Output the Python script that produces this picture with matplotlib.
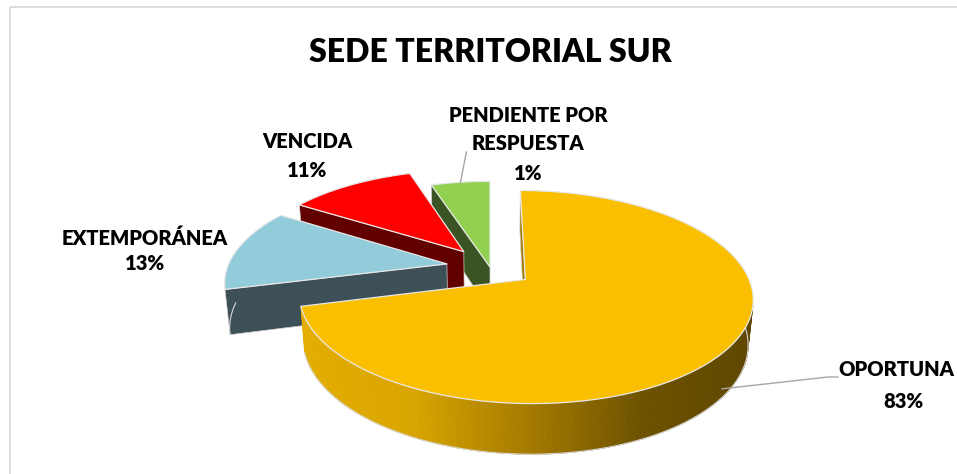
import numpy as np
import matplotlib
matplotlib.use("Agg")
import matplotlib.pyplot as plt
from matplotlib.patches import Polygon, Rectangle
from matplotlib.colors import LinearSegmentedColormap

# ---------------- data ----------------
title = "SEDE TERRITORIAL SUR"
categories = ["OPORTUNA", "EXTEMPORÁNEA", "VENCIDA", "PENDIENTE POR\nRESPUESTA"]
shares = [71, 13, 11, 5]                  # slice sizes as drawn in the picture
pct_labels = ["83%", "13%", "11%", "1%"]  # percentages printed on the chart

# ---------------- style ----------------
top_colors = ["#FABF00", "#92CBD9", "#FF0000", "#92D050"]
side_colors = [None, "#3D4F57", "#620000", "#3B5424"]
explode = [0.2, 0.2, 0.2, 0.0]
orange_side = LinearSegmentedColormap.from_list(
    "side", ["#E4AE00", "#D9A500", "#A57B00", "#6E5200", "#5E4600"])

W, H = 957, 474
fig = plt.figure(figsize=(W / 100, H / 100), dpi=100)
ax = fig.add_axes([0, 0, 1, 1])
ax.set_xlim(0, W)
ax.set_ylim(H, 0)
ax.axis("off")

plt.rcParams["font.family"] = ["Lato", "DejaVu Sans"]

# frame
ax.add_patch(Rectangle((10, 7), W + 20, H + 20, fill=False,
                       edgecolor="#D9D9D9", lw=1.3))

# ---------------- 3D projection ----------------
Sx, Sy = 490, 267
f, D = 1206.0, 5.5
alpha = np.arcsin(0.454)
sa, ca = np.sin(alpha), np.cos(alpha)
h = 0.23
cam = np.array([0.0, -D * ca, D * sa])


def proj(X, Y, Z):
    X = np.asarray(X, float)
    Y = np.asarray(Y, float)
    Z = np.asarray(Z, float)
    v = Y * sa + Z * ca
    w = Y * ca - Z * sa
    return Sx + f * X / (D + w), Sy - f * v / (D + w)


def facing(pt, normal):
    return np.dot(normal, cam - pt) > 0


def poly(xs, ys, fc, ec=None, lw=0.6, z=1):
    ax.add_patch(Polygon(np.column_stack([xs, ys]), closed=True, facecolor=fc,
                         edgecolor=ec if ec is not None else fc, lw=lw,
                         zorder=z, joinstyle="round"))


total = float(sum(shares))
bounds = []
acc = 90.0
for s in shares:
    hi = acc
    lo = acc - s / total * 360.0
    bounds.append((lo, hi))
    acc = lo

anchors = {}
for i in [3, 2, 1, 0]:
    lo, hi = bounds[i]
    mid = np.radians((lo + hi) / 2)
    ox, oy = explode[i] * np.cos(mid), explode[i] * np.sin(mid)
    t = np.radians(np.linspace(lo, hi, max(4, int((hi - lo) / 1.5))))
    rx, ry = ox + np.cos(t), oy + np.sin(t)
    zb = 2 + (3 - i) * 3

    # radial faces
    for ang, sgn in [(np.radians(lo), -1), (np.radians(hi), 1)]:
        nrm = np.array([np.cos(ang + sgn * np.pi / 2), np.sin(ang + sgn * np.pi / 2), 0])
        ex, ey = ox + np.cos(ang), oy + np.sin(ang)
        pt = np.array([(ox + ex) / 2, (oy + ey) / 2, -h / 2])
        if facing(pt, nrm):
            px, py = proj([ox, ex, ex, ox], [oy, ey, ey, oy], [0, 0, -h, -h])
            fc = side_colors[i] if side_colors[i] else orange_side(0.5)
            poly(px, py, fc, ec="#D0D0D0", lw=0.5, z=zb)

    # outer rim
    for k in range(len(t) - 1):
        tm = (t[k] + t[k + 1]) / 2
        nrm = np.array([np.cos(tm), np.sin(tm), 0])
        pt = np.array([ox + np.cos(tm), oy + np.sin(tm), -h / 2])
        if not facing(pt, nrm):
            continue
        px, py = proj([rx[k], rx[k + 1], rx[k + 1], rx[k]],
                      [ry[k], ry[k + 1], ry[k + 1], ry[k]], [0, 0, -h, -h])
        if side_colors[i]:
            fc = side_colors[i]
        else:
            fc = orange_side(np.clip((px.mean() - 300) / 455, 0, 1))
        poly(px, py, fc, lw=0.6, z=zb)
    front = [k for k in range(len(t)) if np.sin(t[k]) < 0.05]
    if front:
        bx, by = proj(rx[front], ry[front], np.full(len(front), -h))
        ax.plot(bx, by, color="#D8D8D8", lw=0.8, zorder=zb + 0.5)

    # top face
    X = np.concatenate([[ox], rx])
    Y = np.concatenate([[oy], ry])
    px, py = proj(X, Y, np.zeros_like(X))
    poly(px, py, top_colors[i], ec="#E8E8E8", lw=0.9, z=zb + 1)

    if i == 0:
        anchors[i] = proj(ox + np.cos(mid), oy + np.sin(mid), -0.8 * h)
    else:
        anchors[i] = proj(ox + np.cos(mid), oy + np.sin(mid), 0)

# ---------------- texts ----------------
ax.text(490, 62, title, ha="center", va="baseline", fontsize=23,
        fontweight="heavy", color="black", zorder=20)

# (x centre of name, x centre of %, first-line cap centre, line step)
label_pos = [(896, 903, 369.5, 31), (145, 145, 238, 25.5),
             (307, 307, 140.5, 29.5), (528, 528, 114.5, 29)]
for i in range(4):
    xn, xp, y0, step = label_pos[i]
    names = categories[i].split("\n")
    for j, line in enumerate(names + [pct_labels[i]]):
        ax.text(xn if j < len(names) else xp, y0 + j * step + 7, line,
                ha="center", va="baseline", fontsize=14.5, fontweight="heavy",
                color="black", zorder=20)

# leader lines
gx, gy = anchors[3]
ax.plot([gx, gx + 6], [gy, 152], color="#A6A6A6", lw=1.0, zorder=19)
ox_, oy_ = anchors[0]
ax.plot([ox_, 828, 838], [oy_, 377, 377], color="#A6A6A6", lw=1.0, zorder=19)

fig.savefig("out.png", dpi=100)
